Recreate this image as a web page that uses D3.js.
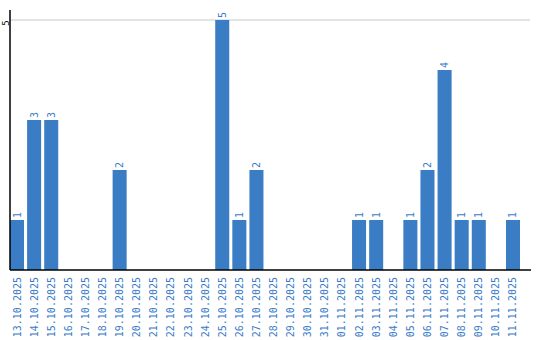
<!DOCTYPE html>
<html>
<head>
<meta charset="utf-8">
<script src="https://cdn.jsdelivr.net/npm/d3@7"></script>
<style>
  body { margin: 0; background: #fff; }
  text { font-family: "DejaVu Sans Mono", monospace; }
</style>
</head>
<body>
<div class="chart"></div>
<script>
// data
const dates = ["13.10.2025", "14.10.2025", "15.10.2025", "16.10.2025", "17.10.2025",
  "18.10.2025", "19.10.2025", "20.10.2025", "21.10.2025", "22.10.2025", "23.10.2025",
  "24.10.2025", "25.10.2025", "26.10.2025", "27.10.2025", "28.10.2025", "29.10.2025",
  "30.10.2025", "31.10.2025", "01.11.2025", "02.11.2025", "03.11.2025", "04.11.2025",
  "05.11.2025", "06.11.2025", "07.11.2025", "08.11.2025", "09.11.2025", "10.11.2025",
  "11.11.2025"];
const counts = [1, 3, 3, 0, 0, 0, 2, 0, 0, 0, 0, 0, 5, 1, 2, 0, 0, 0, 0, 0, 1, 1, 0, 1, 2, 4, 1, 1, 0, 1];
const yTicks = [5];

const barColor = "#3b7dc4";
const labelColor = "#3a7bc8";

var svg = d3.select(".chart").append("svg").attr("width", 540).attr("height", 340);

const x = d3.scaleBand().domain(dates).range([10, 520]).paddingInner(0.18).paddingOuter(0);
const y = d3.scaleLinear().domain([0, 5]).range([270, 20]);

// grid
svg.selectAll(".grid").data(yTicks).enter().append("line")
    .attr("x1", 10).attr("x2", 530)
    .attr("y1", d => y(d)).attr("y2", d => y(d))
    .attr("stroke", "#c8c8c8").attr("stroke-width", 1);

// bars
svg.selectAll(".bar").data(counts).enter().append("rect")
    .attr("x", (d, i) => x(dates[i]))
    .attr("y", d => y(d))
    .attr("width", x.bandwidth())
    .attr("height", d => y(0) - y(d))
    .attr("fill", barColor);

// value labels (only for days with something)
counts.forEach((d, i) => {
    if (d <= 0) return;
    svg.append("text")
        .text(d)
        .attr("transform", "translate(" + (x(dates[i]) + x.bandwidth() / 2 + 3.5) + "," + (y(d) - 2) + ") rotate(-90)")
        .attr("font-size", 10)
        .attr("fill", labelColor);
});

// axis lines
svg.append("line").attr("x1", 10).attr("x2", 10).attr("y1", 10).attr("y2", 270)
    .attr("stroke", "#000").attr("stroke-width", 1.5);
svg.append("line").attr("x1", 10).attr("x2", 531).attr("y1", 270).attr("y2", 270)
    .attr("stroke", "#000").attr("stroke-width", 1.5);

// y tick labels
yTicks.forEach(t => {
    svg.append("text")
        .text(t)
        .attr("transform", "translate(8.5," + (y(t) + 3) + ") rotate(-90)")
        .attr("text-anchor", "middle")
        .attr("font-size", 9)
        .attr("fill", "#000");
});

// x labels
dates.forEach(dt => {
    svg.append("text")
        .text(dt)
        .attr("transform", "translate(" + (x(dt) + x.bandwidth() / 2 + 3.5) + ",277) rotate(-90)")
        .attr("text-anchor", "end")
        .attr("font-size", 10)
        .attr("fill", labelColor);
});
</script>
</body>
</html>
